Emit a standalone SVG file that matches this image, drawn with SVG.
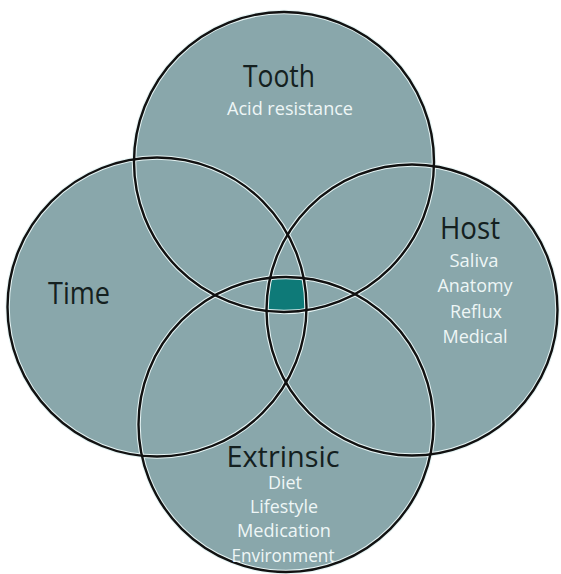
<svg xmlns="http://www.w3.org/2000/svg" width="561" height="574" viewBox="0 0 561 574">
  <style>
    .fill { fill: #89a7ab; stroke: none; }
    .halo { fill: none; stroke: #e6f4f4; stroke-width: 4.5; }
    .line { fill: none; stroke: #111; stroke-width: 2.4; }
    .title { font-family: "Open Sans", "DejaVu Sans", sans-serif; fill: #142020; text-anchor: middle; }
    .sub { font-family: "Open Sans", "DejaVu Sans", sans-serif; fill: #eef6f6; text-anchor: middle; font-size: 18px; }
  </style>
  <defs>
    <clipPath id="cTooth"><circle cx="284" cy="162" r="150"/></clipPath>
    <clipPath id="cTime"><circle cx="157" cy="307" r="149.5"/></clipPath>
    <clipPath id="cHost"><circle cx="412" cy="310" r="145.5"/></clipPath>
  </defs>
  <rect width="561" height="574" fill="#ffffff"/>
  <g id="fills">
    <circle class="fill" cx="284" cy="162" r="150"/>
    <circle class="fill" cx="157" cy="307" r="149.5"/>
    <circle class="fill" cx="412" cy="310" r="145.5"/>
    <circle class="fill" cx="286" cy="424.5" r="147.5"/>
  </g>
  <g id="core" clip-path="url(#cTooth)">
    <g clip-path="url(#cTime)">
      <g clip-path="url(#cHost)">
        <circle cx="286" cy="424.5" r="147.5" fill="#0e7a78"/>
      </g>
    </g>
  </g>
  <g id="outlines">
    <circle class="halo" cx="284" cy="162" r="150"/>
    <circle class="halo" cx="157" cy="307" r="149.5"/>
    <circle class="halo" cx="412" cy="310" r="145.5"/>
    <circle class="halo" cx="286" cy="424.5" r="147.5"/>
    <circle class="line" cx="284" cy="162" r="150"/>
    <circle class="line" cx="157" cy="307" r="149.5"/>
    <circle class="line" cx="412" cy="310" r="145.5"/>
    <circle class="line" cx="286" cy="424.5" r="147.5"/>
  </g>
  <g id="tooth">
    <text class="title" x="279" y="87" font-size="31" textLength="72" lengthAdjust="spacingAndGlyphs">Tooth</text>
    <text class="sub" x="290" y="115" textLength="126" lengthAdjust="spacingAndGlyphs">Acid resistance</text>
  </g>
  <g id="time">
    <text class="title" x="79" y="304" font-size="31" textLength="62" lengthAdjust="spacingAndGlyphs">Time</text>
  </g>
  <g id="host">
    <text class="title" x="470" y="239" font-size="31" textLength="60" lengthAdjust="spacingAndGlyphs">Host</text>
    <text class="sub" x="474" y="267" textLength="49" lengthAdjust="spacingAndGlyphs">Saliva</text>
    <text class="sub" x="475" y="292" textLength="75" lengthAdjust="spacingAndGlyphs">Anatomy</text>
    <text class="sub" x="476" y="318" textLength="52" lengthAdjust="spacingAndGlyphs">Reflux</text>
    <text class="sub" x="475" y="343" textLength="65" lengthAdjust="spacingAndGlyphs">Medical</text>
  </g>
  <g id="extrinsic">
    <text class="title" x="283" y="467" font-size="30" textLength="113" lengthAdjust="spacingAndGlyphs">Extrinsic</text>
    <text class="sub" x="285" y="489" textLength="34" lengthAdjust="spacingAndGlyphs">Diet</text>
    <text class="sub" x="284" y="513" textLength="68" lengthAdjust="spacingAndGlyphs">Lifestyle</text>
    <text class="sub" x="284" y="537" textLength="94" lengthAdjust="spacingAndGlyphs">Medication</text>
    <text class="sub" x="283" y="562" textLength="103" lengthAdjust="spacingAndGlyphs">Environment</text>
  </g>
</svg>
